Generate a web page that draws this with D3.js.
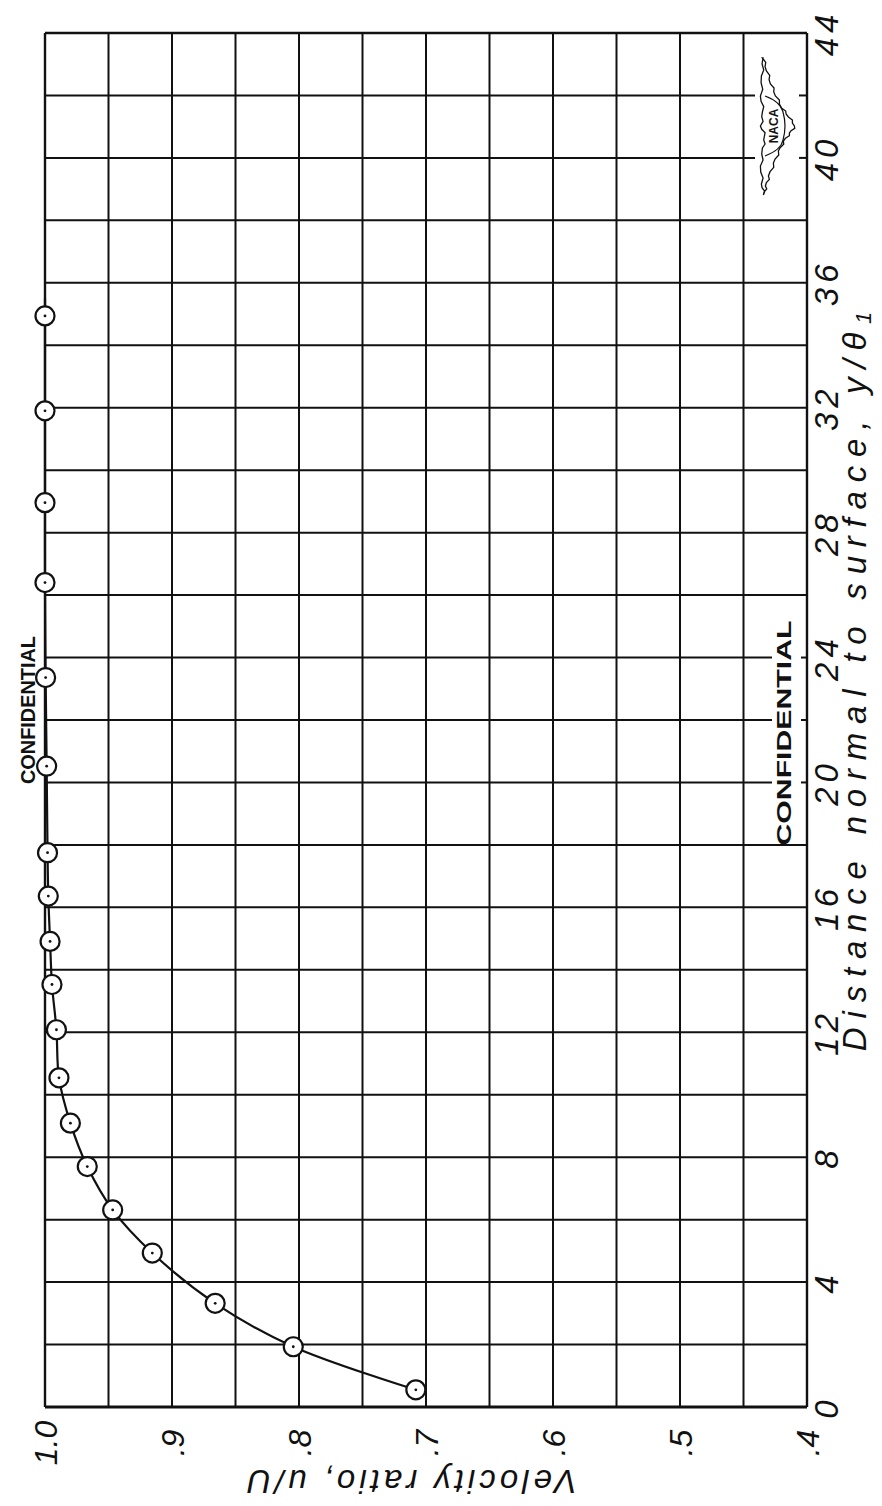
<!DOCTYPE html>
<html>
<head>
<meta charset="utf-8">
<script src="https://cdn.jsdelivr.net/npm/d3@7"></script>
<style>
  body { margin: 0; background: #fff; }
  text { fill: #111; }
</style>
</head>
<body>
<svg id="chart" width="882" height="1506"></svg>
<script>
// Boundary-layer velocity profile: velocity ratio u/U against distance normal to surface y/θ
const distance = [0.55, 1.93, 3.32, 4.93, 6.31, 7.70, 9.09, 10.54, 12.08, 13.53, 14.91, 16.36, 17.75, 20.52, 23.36, 26.40, 28.96, 31.90, 34.94];
const velocity = [0.708, 0.8045, 0.866, 0.9155, 0.9467, 0.9667, 0.980, 0.989, 0.991, 0.9945, 0.996, 0.9974, 0.998, 0.9987, 0.9995, 1.0, 1.0, 1.0, 1.0];

// the faired curve is carried a little past the last measured point
const curveEndDistance = [35.5];
const curveEndVelocity = [1.0];

const distanceTicks = [0, 4, 8, 12, 16, 20, 24, 28, 32, 36, 40, 44];
const distanceTickLabels = ["0", "4", "8", "12", "16", "20", "24", "28", "32", "36", "40", "44"];
const velocityTicks = [1.0, 0.9, 0.8, 0.7, 0.6, 0.5, 0.4];
const velocityTickLabels = ["1.0", ".9", ".8", ".7", ".6", ".5", ".4"];

// grid spacing
const velocityGridStep = 0.05;
const distanceGridStep = 2;

// the sheet is turned on its side: distance runs up the page, velocity runs right-to-left
const plot = { left: 45, right: 807, top: 33, bottom: 1407 };

const svg = d3.select("#chart");
const u = d3.scaleLinear().domain([0.4, 1.0]).range([plot.right, plot.left]);
const d = d3.scaleLinear().domain([0, 44]).range([plot.bottom, plot.top]);

const ink = "#111";
const handFont = "'Liberation Sans', Arial, sans-serif";

// ---- grid ----
const grid = svg.append("g").attr("stroke", ink).attr("fill", "none");

const vLines = d3.range(0, Math.round(0.6 / velocityGridStep) + 1).map(i => 0.4 + i * velocityGridStep);
grid.selectAll("line.v").data(vLines).join("line")
  .attr("class", "v")
  .attr("x1", v => u(v)).attr("x2", v => u(v))
  .attr("y1", plot.top).attr("y2", plot.bottom)
  .attr("stroke-width", v => (Math.abs(v - 0.4) < 1e-9 || Math.abs(v - 1.0) < 1e-9) ? 2.4 : 2);

// horizontal rules; a few are broken where the emblem and stamp sit
const hLines = d3.range(0, 44 + 1e-9, distanceGridStep);
const breaks = {
  40: [755, 799], 42: [755, 799],
  20: [772, 801], 22: [772, 801], 24: [772, 801]
};
hLines.forEach(h => {
  const sw = h === 0 ? 3.2 : (h === 44 ? 2.4 : 2);
  const b = breaks[h];
  const segs = b ? [[plot.left, b[0]], [b[1], plot.right]] : [[plot.left, plot.right]];
  segs.forEach(s => {
    grid.append("line")
      .attr("x1", s[0]).attr("x2", s[1])
      .attr("y1", d(h)).attr("y2", d(h))
      .attr("stroke-width", sw);
  });
});

// ---- tick labels ----
svg.append("g").selectAll("text").data(distanceTicks).join("text")
  .attr("transform", t => `translate(838,${d(t)}) rotate(-90)`)
  .attr("text-anchor", "middle")
  .attr("font-family", handFont)
  .attr("font-style", "italic")
  .attr("font-size", 33)
  .attr("letter-spacing", 5)
  .text((t, i) => distanceTickLabels[i]);

svg.append("g").selectAll("text").data(velocityTicks).join("text")
  .attr("transform", t => `translate(${u(t) + 12},1443) rotate(-90)`)
  .attr("text-anchor", "middle")
  .attr("font-family", handFont)
  .attr("font-style", "italic")
  .attr("font-size", 32)
  .text((t, i) => velocityTickLabels[i]);

// ---- axis titles ----
const dTitle = svg.append("text")
  .attr("transform", `translate(866,677) rotate(-90)`)
  .attr("text-anchor", "middle")
  .attr("font-family", handFont)
  .attr("font-style", "italic")
  .attr("font-size", 33)
  .attr("letter-spacing", 8.8);
dTitle.append("tspan").text("Distance normal to surface, y/θ");
dTitle.append("tspan").attr("font-size", 22).attr("dy", 5).text("1");

svg.append("text")
  .attr("transform", `translate(410,1470) rotate(180)`)
  .attr("text-anchor", "middle")
  .attr("font-family", handFont)
  .attr("font-style", "italic")
  .attr("font-size", 33)
  .attr("letter-spacing", 4)
  .text("Velocity ratio, u/U");

// ---- faired curve and measured points ----
const pts = distance.map((x, i) => ({ distance: x, velocity: velocity[i] }));
const curvePts = pts.concat(curveEndDistance.map((x, i) => ({ distance: x, velocity: curveEndVelocity[i] })));

svg.append("path")
  .datum(curvePts)
  .attr("fill", "none")
  .attr("stroke", ink)
  .attr("stroke-width", 2.2)
  .attr("d", d3.line()
    .x(p => u(p.velocity))
    .y(p => d(p.distance))
    .curve(d3.curveCatmullRom.alpha(0.5)));

const marks = svg.append("g").selectAll("g").data(pts).join("g")
  .attr("transform", p => `translate(${u(p.velocity)},${d(p.distance)})`);
marks.append("circle").attr("r", 9.5).attr("fill", "#fff").attr("stroke", ink).attr("stroke-width", 2.2);
marks.append("circle").attr("r", 1.4).attr("fill", ink);

// ---- security stamps ----
const stamp = (x, y, len) => svg.append("text")
  .attr("transform", `translate(${x},${y}) rotate(-90)`)
  .attr("text-anchor", "middle")
  .attr("font-family", "'Liberation Sans', Arial, sans-serif")
  .attr("font-weight", "bold")
  .attr("font-size", 20)
  .attr("textLength", len)
  .attr("lengthAdjust", "spacingAndGlyphs")
  .text("CONFIDENTIAL");
stamp(35, 710, 148);
stamp(791, 733, 225);

// ---- NACA wing emblem ----
const emblem = svg.append("g").attr("transform", "translate(779,126)");
const outline = [
  [-16, -68], [-12, -55], [-8, -42], [-3, -30], [3, -18], [10, -9], [16, 0], [11, 7],
  [5, 15], [0, 25], [-5, 37], [-10, 50], [-13, 60], [-15, 69],
  [-17, 58], [-18, 40], [-16, 22], [-14, 10], [-18, 0], [-16, -14], [-18, -30], [-17, -50], [-16, -68]
];
// feathered edge: small saw-tooth along each segment
const feathered = [];
for (let i = 0; i < outline.length - 1; i++) {
  const [x0, y0] = outline[i], [x1, y1] = outline[i + 1];
  const n = 3;
  for (let k = 0; k < n; k++) {
    const t = k / n;
    const jitter = (k % 2 ? 1.4 : -0.6);
    feathered.push([x0 + (x1 - x0) * t + jitter, y0 + (y1 - y0) * t]);
  }
}
feathered.push(outline[outline.length - 1]);
emblem.append("path")
  .attr("d", d3.line().curve(d3.curveLinearClosed)(feathered))
  .attr("fill", "#fff")
  .attr("stroke", ink)
  .attr("stroke-width", 1.3);
emblem.append("path")
  .attr("d", "M-14,-30 Q2,-24 4,-14 Q8,0 4,14 Q2,24 -14,30")
  .attr("fill", "none").attr("stroke", ink).attr("stroke-width", 1.2);
emblem.append("text")
  .attr("transform", "translate(-1,0) rotate(-90)")
  .attr("text-anchor", "middle")
  .attr("font-family", "'Liberation Sans', Arial, sans-serif")
  .attr("font-weight", "bold")
  .attr("font-size", 12)
  .text("NACA");
</script>
</body>
</html>
